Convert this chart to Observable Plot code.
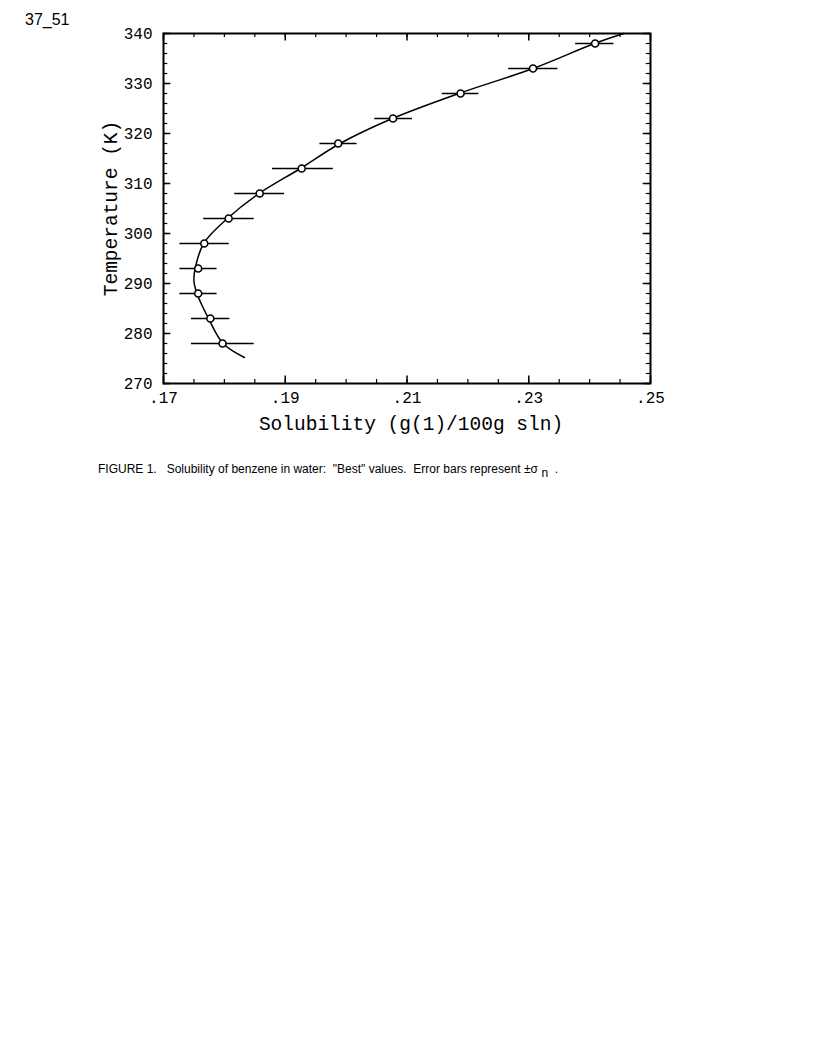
<!DOCTYPE html>
<html>
<head>
<meta charset="utf-8">
<script src="https://cdn.jsdelivr.net/npm/d3@7"></script>
<script src="https://cdn.jsdelivr.net/npm/@observablehq/plot@0.6"></script>
<style>
  html, body { margin: 0; padding: 0; background: #fff; }
  #wrap { position: relative; width: 823px; height: 1063px; }
  #chart { position: absolute; left: 0; top: 0; z-index: 0; }
  #id { position: absolute; left: 25px; top: 11px; z-index: 2; font: 16px "Liberation Sans", Arial, sans-serif; color: #000; }
  #caption { position: absolute; left: 98px; top: 462px; z-index: 2; font: 12px "Liberation Sans", Arial, sans-serif; color: #000; white-space: pre; }
  #caption sub { font-size: 12px; position: relative; top: 4px; vertical-align: baseline; }
</style>
</head>
<body>
<div id="wrap">
  <div id="chart"></div>
  <div id="id">37_51</div>
  <div id="caption">FIGURE 1.   Solubility of benzene in water:  "Best" values.  Error bars represent ±σ <sub>n</sub>  .</div>
</div>
<script>
// Measured points (temperature K, solubility g/100g sln, error bar low/high)
const temps = [278, 283, 288, 293, 298, 303, 308, 313, 318, 323, 328, 333, 338];
const solub = [0.1797, 0.1777, 0.1757, 0.1757, 0.1767, 0.1807, 0.1858, 0.1927, 0.1987, 0.2077, 0.2188, 0.2307, 0.2409];
const errLo = [0.1746, 0.1746, 0.1727, 0.1727, 0.1727, 0.1766, 0.1817, 0.1879, 0.1957, 0.2047, 0.2158, 0.2267, 0.2377];
const errHi = [0.1849, 0.1809, 0.1788, 0.1788, 0.1808, 0.1849, 0.1899, 0.1979, 0.2018, 0.2109, 0.2218, 0.2348, 0.2440];

// Fitted curve
const curveT = [275.2, 278, 283, 288, 290.5, 293, 298, 303, 308, 313, 318, 323, 328, 333, 338, 340];
const curveS = [0.1833, 0.1798, 0.1774, 0.1755, 0.1750, 0.1752, 0.1766, 0.1805, 0.1857, 0.1925, 0.1990, 0.2076, 0.2185, 0.2307, 0.2408, 0.2456];

// Tick labels
const xTickVals = [0.17, 0.19, 0.21, 0.23, 0.25];
const yTickVals = [270, 280, 290, 300, 310, 320, 330, 340];
const xMinor = d3.range(0, 17).map(i => +(0.17 + i * 0.005).toFixed(3));
const yMinor = d3.range(0, 36).map(i => 270 + i * 2);

const points = temps.map((t, i) => ({T: t, S: solub[i], lo: errLo[i], hi: errHi[i]}));
const curve = curveT.map((t, i) => ({T: t, S: curveS[i]}));

const fmtX = d => d3.format(".2f")(d).replace(/^0/, "");
const mono = '"Liberation Mono", "DejaVu Sans Mono", monospace';

const chart = Plot.plot({
  width: 823,
  height: 460,
  marginLeft: 163,
  marginRight: 173,
  marginTop: 33,
  marginBottom: 77,
  style: {background: "transparent", color: "#000", fontFamily: mono, fontSize: "15px"},
  x: {domain: [0.17, 0.25], label: null},
  y: {domain: [270, 340], label: null},
  marks: [
    Plot.axisX(xTickVals, {anchor: "bottom", tickSize: 0, tickPadding: 8, tickFormat: fmtX, fontSize: 16, fontFamily: mono}),
    Plot.axisY(yTickVals, {anchor: "left", tickSize: 0, tickPadding: 11, tickFormat: d => String(d), fontSize: 16, fontFamily: mono}),
    // inward tick marks on all four sides
    Plot.ruleX(xMinor, {x: d => d, y1: 270, y2: 270.8, stroke: "#000", strokeWidth: 1.2}),
    Plot.ruleX(xMinor, {x: d => d, y1: 340, y2: 339.2, stroke: "#000", strokeWidth: 1.2}),
    Plot.ruleX(xTickVals, {x: d => d, y1: 270, y2: 271.5, stroke: "#000", strokeWidth: 1.5}),
    Plot.ruleX(xTickVals, {x: d => d, y1: 340, y2: 338.5, stroke: "#000", strokeWidth: 1.5}),
    Plot.ruleY(yMinor, {y: d => d, x1: 0.17, x2: 0.1707, stroke: "#000", strokeWidth: 1.2}),
    Plot.ruleY(yMinor, {y: d => d, x1: 0.25, x2: 0.2493, stroke: "#000", strokeWidth: 1.2}),
    Plot.ruleY(yTickVals, {y: d => d, x1: 0.17, x2: 0.1712, stroke: "#000", strokeWidth: 1.5}),
    Plot.ruleY(yTickVals, {y: d => d, x1: 0.25, x2: 0.2488, stroke: "#000", strokeWidth: 1.5}),
    Plot.frame({stroke: "#000", strokeWidth: 2}),
    // fitted curve
    Plot.line(curve, {x: "S", y: "T", curve: "catmull-rom", stroke: "#000", strokeWidth: 1.5}),
    // error bars
    Plot.ruleY(points, {y: "T", x1: "lo", x2: "hi", stroke: "#000", strokeWidth: 1.6}),
    // data points
    Plot.dot(points, {x: "S", y: "T", r: 3.5, stroke: "#000", strokeWidth: 1.6, fill: "#fff"}),
    // axis titles
    Plot.text(["Solubility (g(1)/100g sln)"], {frameAnchor: "bottom", dy: 46, dx: 4, text: d => d, fontSize: 19.5, fontFamily: mono, fill: "#000"}),
    Plot.text(["Temperature (K)"], {frameAnchor: "left", textAnchor: "middle", dx: -53, rotate: -90, text: d => d, fontSize: 19.5, fontFamily: mono, fill: "#000"})
  ]
});
document.getElementById("chart").appendChild(chart);
</script>
</body>
</html>
